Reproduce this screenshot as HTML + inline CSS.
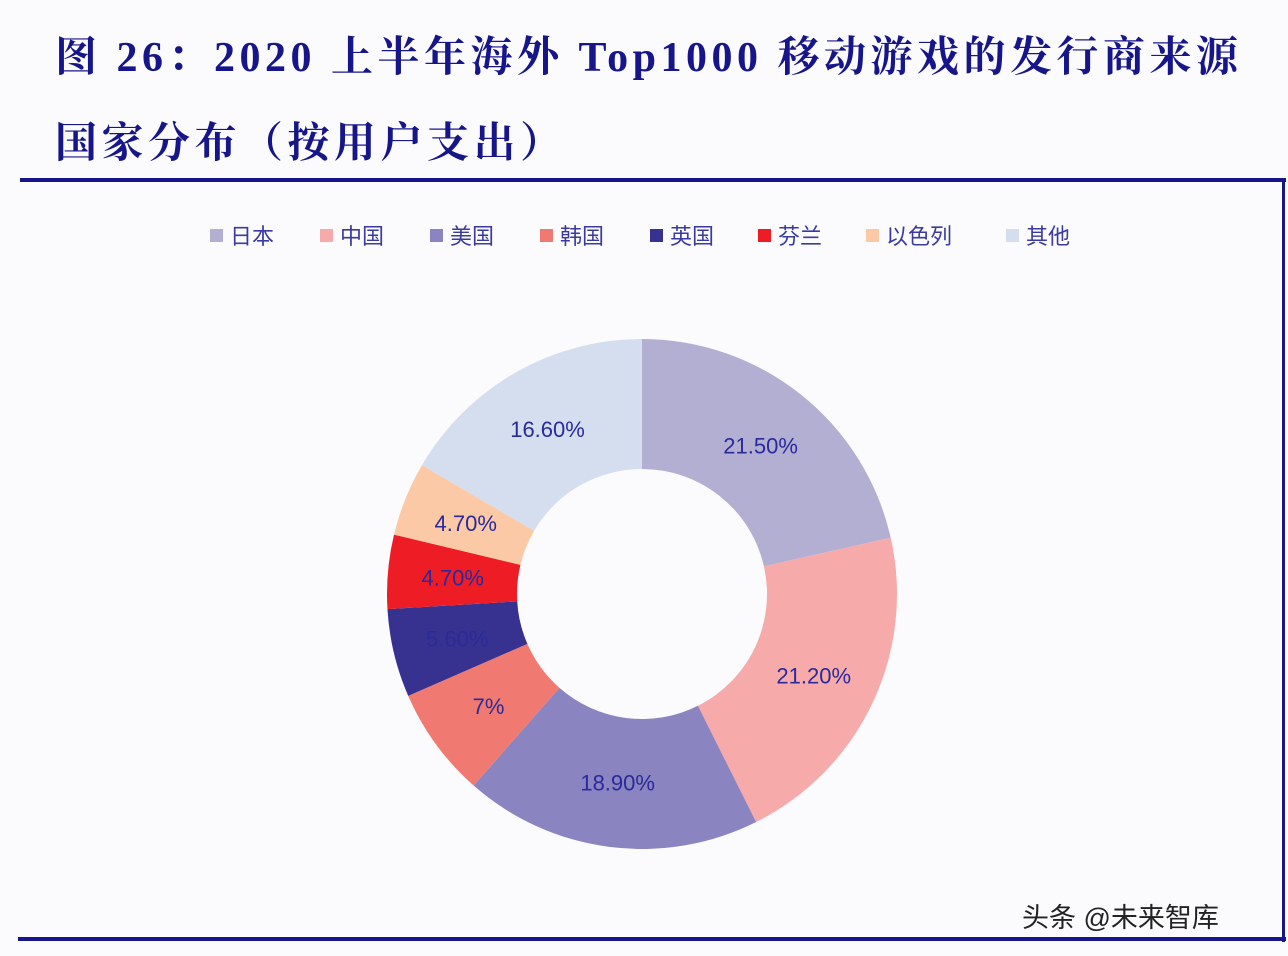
<!DOCTYPE html>
<html><head><meta charset="utf-8">
<style>
body{margin:0;width:1288px;height:956px;background:#fbfbfd;overflow:hidden;position:relative;font-family:"Liberation Serif","Noto Serif CJK SC",serif}
.t{position:absolute;left:55px;color:#16168a;font-weight:bold;font-size:42px;letter-spacing:4.5px}
</style></head><body>
<div class="t" style="top:24px">图 26：2020 上半年海外 Top1000 移动游戏的发行商来源</div>
<div class="t" style="top:110px">国家分布（按用户支出）</div>
<div style="position:absolute;left:20px;top:178px;width:1266px;height:4px;background:#16168a"></div>
<div style="position:absolute;left:1282px;top:178px;width:3px;height:764px;background:#16168a"></div>
<div style="position:absolute;left:18px;top:937px;width:1268px;height:4px;background:#16168a"></div>
<div style="position:absolute;left:1022px;top:896px;font-size:27px;color:#222;font-family:'Liberation Sans','Noto Sans CJK SC',sans-serif">头条 @未来智库</div>
<svg id="c" width="1288" height="956" style="position:absolute;left:0;top:0"></svg>
<script>
const categories=["日本","中国","美国","韩国","英国","芬兰","以色列","其他"];
const values=[21.5,21.2,18.9,7,5.6,4.7,4.7,16.6];
const labels=["21.50%","21.20%","18.90%","7%","5.60%","4.70%","4.70%","16.60%"];
const colors=["#b3afd3","#f6aaa9","#8a84c0","#f07a72","#37318f","#ee1c24","#fbc9a6","#d5deee"];
const svg=document.getElementById('c'),NS="http://www.w3.org/2000/svg";
const cx=642,cy=594,R=255,r=125;
const total=values.reduce((a,b)=>a+b,0);
function pt(a,rad){return [cx+rad*Math.sin(a),cy-rad*Math.cos(a)];}
let acc=0;
values.forEach((v,i)=>{
 const a0=acc/total*2*Math.PI; acc+=v; const a1=acc/total*2*Math.PI;
 const lg=(a1-a0)>Math.PI?1:0;
 const [x0,y0]=pt(a0,R),[x1,y1]=pt(a1,R),[x2,y2]=pt(a1,r),[x3,y3]=pt(a0,r);
 const p=document.createElementNS(NS,'path');
 p.setAttribute('d',`M${x0},${y0}A${R},${R} 0 ${lg} 1 ${x1},${y1}L${x2},${y2}A${r},${r} 0 ${lg} 0 ${x3},${y3}Z`);
 p.setAttribute('fill',colors[i]);
 
 
 svg.appendChild(p);
 const [lx,ly]=pt((a0+a1)/2,(R+r)/2);
 const t=document.createElementNS(NS,'text');
 t.setAttribute('x',lx);t.setAttribute('y',ly+8);t.setAttribute('text-anchor','middle');
 t.setAttribute('font-size','22');t.setAttribute('fill','#2a2a9a');
 t.setAttribute('font-family','Liberation Sans, sans-serif');
 t.textContent=labels[i];
 
 
 svg.appendChild(t);
});
const lx=[210,320,430,540,650,758,866,1006];
categories.forEach((c,i)=>{
 const g=document.createElementNS(NS,'g');
 
 
 const s=document.createElementNS(NS,'rect');
 s.setAttribute('x',lx[i]);s.setAttribute('y',229);s.setAttribute('width',13);s.setAttribute('height',13);s.setAttribute('fill',colors[i]);
 g.appendChild(s);
 const t=document.createElementNS(NS,'text');
 t.setAttribute('x',lx[i]+20);t.setAttribute('y',244);t.setAttribute('font-size','22');t.setAttribute('fill','#3a3aa0');
 t.setAttribute('font-family','Liberation Sans, Noto Sans CJK SC, sans-serif');
 t.textContent=c;
 g.appendChild(t);
 svg.appendChild(g);
});
</script>
</body></html>
